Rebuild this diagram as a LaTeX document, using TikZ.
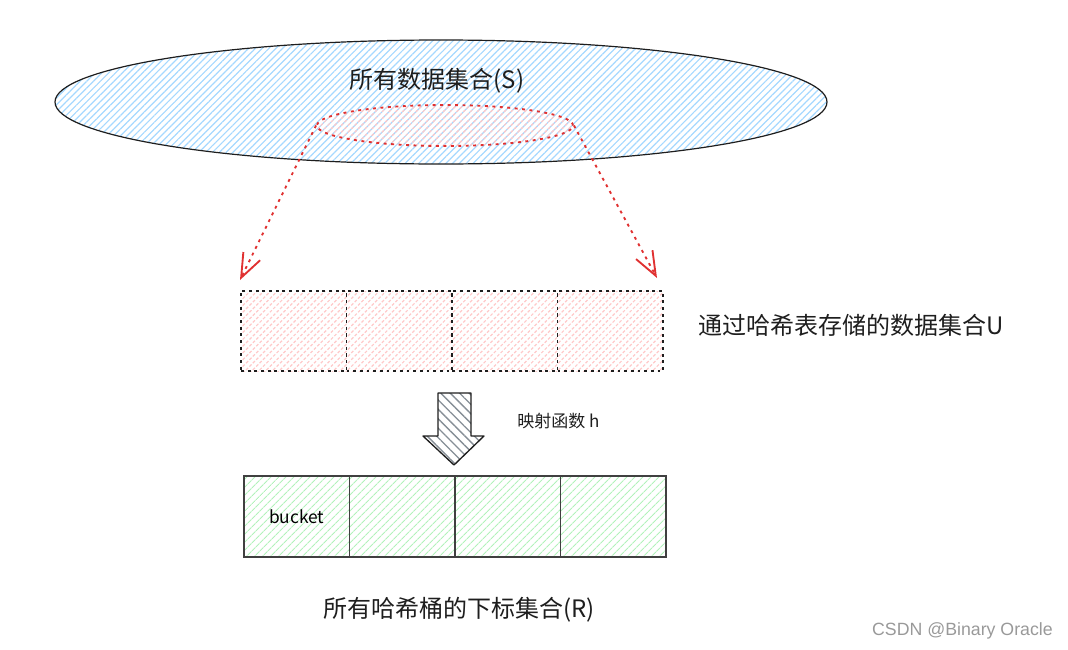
\documentclass[tikz,border=0pt]{standalone}
\usepackage{fontspec}
\setmainfont{Noto Sans CJK SC}
\setsansfont{Liberation Sans}
\usetikzlibrary{positioning, shapes.geometric, patterns.meta, arrows.meta}

\definecolor{skyhatch}{RGB}{165,216,255}
\definecolor{pinkhatch}{RGB}{255,201,201}
\definecolor{greenhatch}{RGB}{178,242,187}
\definecolor{grayhatch}{RGB}{134,142,150}
\definecolor{dotred}{RGB}{224,49,49}
\definecolor{ink}{RGB}{30,30,30}

\tikzset{
	setS/.style={ellipse, draw=ink, line width=0.9pt, inner sep=0pt,
		minimum width=579pt, minimum height=93pt,
		pattern={Lines[angle=45, distance=3.6pt, line width=0.9pt]}, pattern color=skyhatch},
	subset/.style={ellipse, draw=dotred, line width=1.4pt, dash pattern=on 2.2pt off 3.4pt,
		inner sep=0pt, minimum width=192pt, minimum height=30.75pt,
		pattern={Lines[angle=45, distance=3.6pt, line width=0.9pt]}, pattern color=pinkhatch},
	ucell/.style={draw=ink, line width=1.4pt, dash pattern=on 2.2pt off 2.8pt,
		inner sep=0pt, outer sep=0pt, minimum width=79.125pt, minimum height=60pt,
		pattern={Lines[angle=45, distance=3.6pt, line width=0.9pt]}, pattern color=pinkhatch},
	rcell/.style={draw=ink!85, line width=0.9pt, inner sep=0pt, outer sep=0pt,
		minimum width=79.125pt, minimum height=60.75pt, font=\fontsize{13}{15}\selectfont,
		pattern={Lines[angle=45, distance=4pt, line width=0.9pt]}, pattern color=greenhatch},
	pick/.style={draw=dotred, line width=1.4pt, dash pattern=on 2.2pt off 3.4pt,
		-{Straight Barb[length=18pt, width=14pt]}},
	blockarrow/.style={draw=ink, line width=1pt, line join=round,
		pattern={Lines[angle=-45, distance=5pt, line width=1pt]}, pattern color=grayhatch},
	biglabel/.style={text=ink, font=\fontsize{18}{21}\selectfont, inner sep=0pt},
	smalllabel/.style={text=ink, font=\fontsize{12.75}{15}\selectfont, inner sep=0pt},
	watermark/.style={text=black!40, font=\sffamily\fontsize{13.3}{16}\selectfont, inner sep=0pt}
}

\begin{document}
\begin{tikzpicture}[x=0.75pt, y=-0.75pt, node distance=0pt]
	\useasboundingbox (0,0) rectangle (1068,650);

	\node[setS] (S) at (441,102) {};
	\node[biglabel] (Slabel) at (437,81) {所有数据集合(S)};
	\node[subset] (sub) at (445,125.5) {};

	\node[ucell] (u1) at (293.75,331) {};
	\node[ucell, right=of u1] (u2) {};
	\node[ucell, right=of u2] (u3) {};
	\node[ucell, right=of u3] (u4) {};
	\node[biglabel, anchor=west] (Ulabel) at (698,325) {通过哈希表存储的数据集合U};

	\coordinate (ltip) at (240,280);
	\coordinate (rtip) at (657,278);
	\draw[pick] (sub.west) -- (ltip);
	\draw[pick] (sub.east) -- (rtip);

	\draw[blockarrow] (438,393) -- (471,393) -- (471,436) -- (484,436)
		-- (454,465) -- (423,436) -- (438,436) -- cycle;
	\node[smalllabel, anchor=west] (hlabel) at (517,421) {映射函数 h};

	\node[rcell] (r1) at (296.75,516.5) {bucket};
	\node[rcell, right=of r1] (r2) {};
	\node[rcell, right=of r2] (r3) {};
	\node[rcell, right=of r3] (r4) {};
	\node[biglabel] (Rlabel) at (459,610) {所有哈希桶的下标集合(R)};

	\node[watermark, anchor=east] (mark) at (1053,631) {CSDN @Binary Oracle};
\end{tikzpicture}
\end{document}
